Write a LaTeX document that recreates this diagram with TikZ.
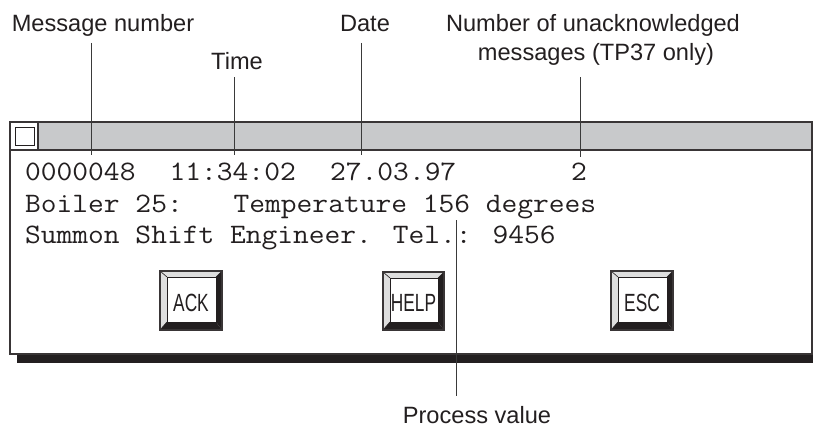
\documentclass[tikz,border=0pt]{standalone}
\usepackage{fontspec}
\setmainfont{Liberation Sans}
\definecolor{ink}{HTML}{231F20}
\definecolor{bar}{HTML}{C8C9CB}
\definecolor{bevel}{HTML}{DEDEDE}
\definecolor{lead}{HTML}{3A3A3A}
\newcommand\RkButton[6]{%
  \fill[bevel] (#2,#3) rectangle (#4,#5);
  \fill[ink] (#2,#5) -- (#4,#5) -- ({#4-6},{#5-8}) -- ({#2+7},{#5-8}) -- cycle;
  \fill[ink] (#4,#3) -- (#4,#5) -- ({#4-6},{#5-8}) -- ({#4-6},{#3+6}) -- cycle;
  \draw[thinln] (#2,#3) -- ({#2+7},{#3+6});
  \draw[thinln] (#4,#3) -- ({#4-6},{#3+6});
  \draw[thinln] (#2,#5) -- ({#2+7},{#5-8});
  \draw[thinln, fill=white] ({#2+7},{#3+6}) rectangle ({#4-6},{#5-8});
  \draw[frame] (#2,#3) rectangle (#4,#5);
  \node[btnlbl] (#1) at ({(#2+#4)/2},311) {\scalebox{0.73}[1.05]{#6}};
}
\newcommand\RkMono[1]{\scalebox{1}[0.92]{#1}}
\begin{document}
\begin{tikzpicture}[x=1pt,y=-1pt,
  lbl/.style={font=\fontsize{23.6}{28}\selectfont, text=ink, inner sep=0pt, anchor=base},
  mono/.style={font=\ttfamily\fontsize{30.6}{34}\selectfont, text=ink, inner sep=0pt,
    text height=17pt, text depth=3pt, anchor=base west},
  btnlbl/.style={font=\fontsize{23.7}{28}\selectfont, text=ink, inner sep=0pt, anchor=base},
  leader/.style={draw=lead, line width=0.9pt},
  frame/.style={draw=ink!90, line width=1.1pt},
  thinln/.style={draw=ink, line width=0.6pt}]
\useasboundingbox (0,0) rectangle (813,428);

% labels
\node[lbl] (msg) at (103,32) {Message number};
\node[lbl] (time) at (237,70) {Time};
\node[lbl] (date) at (365,32) {Date};
\node[lbl] (unackA) at (593,32) {Number of unacknowledged};
\node[lbl] (unackB) at (596,60) {messages (TP37 only)};
\node[lbl] (proc) at (477,423) {Process value};

% window
\fill[ink] (17,354) rectangle (813,363);
\draw[frame, fill=white] (10,122) rectangle (812,354);
\draw[frame, fill=bar] (38,122) rectangle (812,150);
\draw[frame] (10,150) -- (38,150);
\draw[thinln, line width=0.9pt] (15,127) rectangle (34,145);

% message text
\node[mono] (f1) at (25,180) {\RkMono{0000048}};
\node[mono] (f2) at (169.5,180) {\RkMono{11:34:02}};
\node[mono] (f3) at (330,180) {\RkMono{27.03.97}};
\node[mono] (f4) at (571,180) {\RkMono{2}};
\node[mono] (g1) at (25,212) {\RkMono{Boiler 25:}};
\node[mono] (g2) at (233.5,212) {\RkMono{Temperature 156 degrees}};
\node[mono] (h1) at (25,243.5) {\RkMono{Summon Shift Engineer. Tel.: 9456}};

% buttons
\RkButton{ack}{160}{271}{222}{330}{ACK}
\RkButton{help}{383}{272}{444}{330}{HELP}
\RkButton{esc}{611}{271}{673}{330}{ESC}

% leaders
\coordinate (msgT) at (91,43);   \coordinate (msgB) at (91,155);
\coordinate (timeT) at (234,77); \coordinate (timeB) at (234,155);
\coordinate (dateT) at (361,43); \coordinate (dateB) at (361,155);
\coordinate (unT) at (580,77);   \coordinate (unB) at (580,157);
\coordinate (prT) at (456,220);  \coordinate (prB) at (456,396);
\draw[leader] (msgT) -- (msgB);
\draw[leader] (timeT) -- (timeB);
\draw[leader] (dateT) -- (dateB);
\draw[leader] (unT) -- (unB);
\draw[leader] (prT) -- (prB);
\end{tikzpicture}
\end{document}
